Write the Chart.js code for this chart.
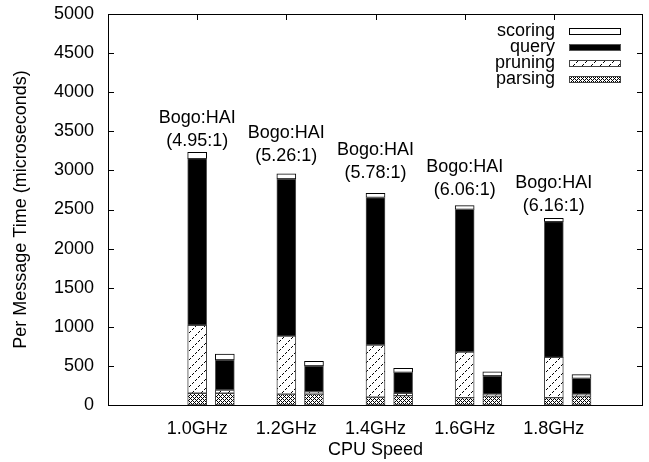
<!DOCTYPE html>
<html>
<head>
<meta charset="utf-8">
<script src="https://cdn.jsdelivr.net/npm/chart.js@4"></script>
<style>
  body { margin: 0; background: #fff; }
  #wrap { width: 649px; height: 462px; }
</style>
</head>
<body>
<div id="wrap"><canvas id="timeChart" width="649" height="462"></canvas></div>
<script>
// CPU speeds on the x axis, one group per speed (Bogo bar, then HAI bar)
const cpuSpeeds = ['1.0GHz', '1.2GHz', '1.4GHz', '1.6GHz', '1.8GHz'];
const ratioText = ['(4.95:1)', '(5.26:1)', '(5.78:1)', '(6.06:1)', '(6.16:1)'];
const ratioLabelY = [3380, 3190, 2960, 2750, 2545];

// per message time (microseconds), one value per stage
const bogoParsing = [150, 140, 100, 95, 95];
const bogoPruning = [870, 740, 667, 583, 515];
const bogoQuery   = [2130, 2010, 1887, 1824, 1734];
const bogoScoring = [80, 65, 53, 47, 43];

const haiParsing = [150, 140, 120, 115, 115];
const haiPruning = [42, 30, 30, 22, 22];
const haiQuery   = [383, 329, 268, 234, 204];
const haiScoring = [75, 61, 51, 52, 47];

const yTicks = [0, 500, 1000, 1500, 2000, 2500, 3000, 3500, 4000, 4500, 5000];

const FONT = 'Liberation Sans, Arial, Helvetica, sans-serif';
const FSIZE = 18;
const HAI_SHIFT = 0.31;

function points(bogo, hai) {
    const pts = [];
    bogo.forEach((v, i) => {
        pts.push({ x: i, y: v });
        pts.push({ x: i + HAI_SHIFT, y: hai[i] });
    });
    return pts;
}

function makePattern(size, draw) {
    const c = document.createElement('canvas');
    c.width = size;
    c.height = size;
    const g = c.getContext('2d');
    g.fillStyle = '#fff';
    g.fillRect(0, 0, size, size);
    g.fillStyle = '#000';
    draw(g, size);
    return g.createPattern(c, 'repeat');
}

// dense cross hatch for parsing
const parsingFill = makePattern(4, (g, n) => {
    for (let x = 0; x < n; x++) {
        for (let y = 0; y < n; y++) {
            if ((x + y) % 4 === 0 || (x - y + 4) % 4 === 0) g.fillRect(x, y, 1, 1);
        }
    }
});
// sparse dashed diagonal for pruning
const pruningFill = makePattern(9, (g, n) => {
    for (let x = 0; x < n; x++) {
        if (x % 3 !== 2) g.fillRect(x, n - 1 - x, 1, 1);
    }
});

const frameTicks = {
    id: 'frameTicks',
    beforeDatasetsDraw(chart) {
        const { ctx, chartArea: a, scales } = chart;
        ctx.save();
        ctx.strokeStyle = '#000';
        ctx.lineWidth = 1;
        ctx.beginPath();
        yTicks.forEach(v => {
            const y = Math.round(scales.y.getPixelForValue(v)) + 0.5;
            ctx.moveTo(a.left, y); ctx.lineTo(a.left + 6, y);
            ctx.moveTo(a.right, y); ctx.lineTo(a.right - 6, y);
        });
        cpuSpeeds.forEach((s, i) => {
            const x = Math.round(scales.x.getPixelForValue(i)) + 0.5;
            ctx.moveTo(x, a.bottom); ctx.lineTo(x, a.bottom - 6);
            ctx.moveTo(x, a.top); ctx.lineTo(x, a.top + 6);
        });
        ctx.stroke();
        ctx.restore();
    },
    afterDatasetsDraw(chart) {
        const { ctx, chartArea: a, scales } = chart;
        ctx.save();
        ctx.strokeStyle = '#000';
        ctx.lineWidth = 1;
        ctx.strokeRect(Math.round(a.left) + 0.5, Math.round(a.top) + 0.5,
            Math.round(a.right - a.left) - 1, Math.round(a.bottom - a.top));

        // ratio labels above the groups
        ctx.fillStyle = '#000';
        ctx.font = FSIZE + 'px ' + FONT;
        ctx.textAlign = 'center';
        ctx.textBaseline = 'middle';
        ratioText.forEach((t, i) => {
            const x = scales.x.getPixelForValue(i);
            const y = scales.y.getPixelForValue(ratioLabelY[i]);
            ctx.fillText('Bogo:HAI', x, y - 23);
            ctx.fillText(t, x, y);
        });

        // key, top right, last dataset first
        const sets = chart.data.datasets.slice().reverse();
        sets.forEach((ds, k) => {
            const y = a.top + 17 + k * 16;
            ctx.textAlign = 'right';
            ctx.fillText(ds.label, a.right - 88, y);
            const bx = Math.round(a.right - 74) + 0.5;
            const by = Math.round(y - 3) + 0.5;
            ctx.fillStyle = ds.backgroundColor;
            ctx.fillRect(bx, by, 51, 6);
            ctx.strokeStyle = ds.borderColor;
            ctx.strokeRect(bx, by, 51, 6);
            ctx.fillStyle = '#000';
        });
        ctx.restore();
    }
};

const ctx = document.getElementById('timeChart').getContext('2d');
const chart = new Chart(ctx, {
    type: 'bar',
    data: {
        datasets: [
            { label: 'parsing', data: points(bogoParsing, haiParsing), backgroundColor: parsingFill, borderColor: '#444' },
            { label: 'pruning', data: points(bogoPruning, haiPruning), backgroundColor: pruningFill, borderColor: '#444' },
            { label: 'query', data: points(bogoQuery, haiQuery), backgroundColor: '#000', borderColor: '#555' },
            { label: 'scoring', data: points(bogoScoring, haiScoring), backgroundColor: '#fff', borderColor: '#000' }
        ]
    },
    options: {
        responsive: false,
        animation: false,
        layout: { padding: { top: 14, right: 6, left: 0, bottom: 0 } },
        datasets: { bar: { barThickness: 19, borderWidth: 1, borderSkipped: false } },
        plugins: { legend: { display: false }, tooltip: { enabled: false } },
        scales: {
            x: {
                type: 'linear',
                min: -1,
                max: 5,
                stacked: true,
                offset: false,
                afterBuildTicks: scale => { scale.ticks = cpuSpeeds.map((s, i) => ({ value: i })); },
                afterFit: scale => {
                    scale.height = 57;
                    scale.paddingLeft = 0;
                    scale.paddingRight = 0;
                },
                grid: { display: false, drawTicks: false },
                border: { display: false },
                ticks: {
                    callback: v => cpuSpeeds[v] ?? '',
                    color: '#000',
                    font: { family: FONT, size: FSIZE },
                    padding: 13,
                    maxRotation: 0,
                    autoSkip: false
                },
                title: {
                    display: true,
                    text: 'CPU Speed',
                    color: '#000',
                    font: { family: FONT, size: FSIZE },
                    padding: { top: 0, bottom: 1 }
                }
            },
            y: {
                min: 0,
                max: 5000,
                stacked: true,
                afterBuildTicks: scale => { scale.ticks = yTicks.map(v => ({ value: v })); },
                afterFit: scale => {
                    scale.width = 108;
                    scale.paddingTop = 0;
                    scale.paddingBottom = 0;
                },
                grid: { display: false, drawTicks: false },
                border: { display: false },
                ticks: {
                    callback: v => String(v),
                    color: '#000',
                    font: { family: FONT, size: FSIZE },
                    padding: 14
                },
                title: {
                    display: true,
                    text: 'Per Message Time (microseconds)',
                    color: '#000',
                    font: { family: FONT, size: FSIZE },
                    padding: { top: 10, bottom: 0 }
                }
            }
        }
    },
    plugins: [frameTicks]
});
</script>
</body>
</html>
